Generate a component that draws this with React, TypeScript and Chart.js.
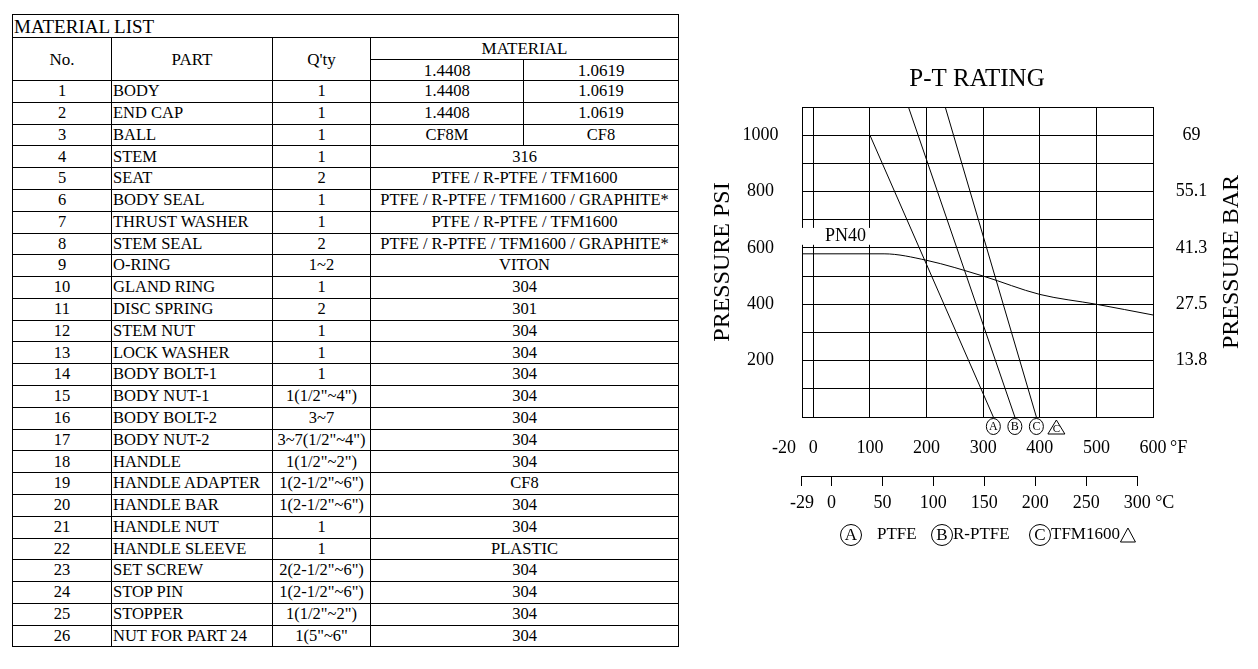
import React, { useEffect, useRef } from 'react';
import { Chart, registerables } from 'chart.js';

Chart.register(...registerables);

// ---------------- Material list data ----------------
const TABLE_TITLE = 'MATERIAL LIST';
const HEAD_NO = 'No.';
const HEAD_PART = 'PART';
const HEAD_QTY = "Q'ty";
const HEAD_MATERIAL = 'MATERIAL';
const MATERIAL_GRADES = ['1.4408', '1.0619'];

const PART_NO = [
  '1', '2', '3', '4', '5', '6', '7', '8', '9', '10', '11', '12', '13',
  '14', '15', '16', '17', '18', '19', '20', '21', '22', '23', '24', '25', '26',
];
const PART_NAMES = [
  'BODY', 'END CAP', 'BALL', 'STEM', 'SEAT', 'BODY SEAL', 'THRUST WASHER', 'STEM SEAL',
  'O-RING', 'GLAND RING', 'DISC SPRING', 'STEM NUT', 'LOCK WASHER', 'BODY BOLT-1',
  'BODY NUT-1', 'BODY BOLT-2', 'BODY NUT-2', 'HANDLE', 'HANDLE ADAPTER', 'HANDLE BAR',
  'HANDLE NUT', 'HANDLE SLEEVE', 'SET SCREW', 'STOP PIN', 'STOPPER', 'NUT FOR PART 24',
];
const QTY = [
  '1', '1', '1', '1', '2', '1', '1', '2', '1~2', '1', '2', '1', '1', '1',
  '1(1/2"~4")', '3~7', '3~7(1/2"~4")', '1(1/2"~2")', '1(2-1/2"~6")', '1(2-1/2"~6")',
  '1', '1', '2(2-1/2"~6")', '1(2-1/2"~6")', '1(1/2"~2")', '1(5"~6"',
];
const MAT_1 = [
  '1.4408', '1.4408', 'CF8M', '316', 'PTFE / R-PTFE / TFM1600',
  'PTFE / R-PTFE / TFM1600 / GRAPHITE*', 'PTFE / R-PTFE / TFM1600',
  'PTFE / R-PTFE / TFM1600 / GRAPHITE*', 'VITON', '304', '301', '304', '304', '304',
  '304', '304', '304', '304', 'CF8', '304', '304', 'PLASTIC', '304', '304', '304', '304',
];
const MAT_2: (string | null)[] = [
  '1.0619', '1.0619', 'CF8', null, null, null, null, null, null, null, null, null, null,
  null, null, null, null, null, null, null, null, null, null, null, null, null,
];

// ---------------- P-T chart data ----------------
const CHART_TITLE = 'P-T RATING';
const Y_TITLE = 'PRESSURE PSI';
const Y2_TITLE = 'PRESSURE BAR';
const TEMP_F_TICKS = [-20, 0, 100, 200, 300, 400, 500, 600];
const TEMP_C_TICKS = [-29, 0, 50, 100, 150, 200, 250, 300];
const PSI_TICKS = [200, 400, 600, 800, 1000];
const BAR_LABELS = ['13.8', '27.5', '41.3', '55.1', '69'];
const F_UNIT = '°F';
const C_UNIT = '°C';

const PN40_LABEL = 'PN40';
const PN40_F = [-20, 125, 200, 300, 400, 500, 600];
const PN40_PSI = [579, 579, 556, 500, 435, 400, 362];

const SEAT_A_F = [100, 318];
const SEAT_A_PSI = [1000, 0];
const SEAT_B_F = [168, 356];
const SEAT_B_PSI = [1100, 0];
const SEAT_C_F = [233, 394];
const SEAT_C_PSI = [1100, 0];

const SEAT_LETTERS = ['A', 'B', 'C'];
const SEAT_NAMES = ['PTFE', 'R-PTFE', 'TFM1600'];

const F_MIN = -20;
const F_MAX = 600;
const PSI_MAX = 1100;

const FONT = "'Liberation Serif', 'Times New Roman', serif";

const pts = (xs: number[], ys: number[]) => xs.map((x, i) => ({ x, y: ys[i] }));

const decorPlugin = {
  id: 'ptDecor',
  afterDraw(chart: any) {
    const { ctx, chartArea, scales } = chart;
    const x = scales.x;
    const y = scales.y;
    const xc = scales.xC;
    ctx.save();
    ctx.strokeStyle = '#000';
    ctx.lineWidth = 1;

    // PN40 label with white background
    const bx0 = chartArea.left - 7;
    const bx1 = Math.round(x.getPixelForValue(100));
    const by0 = y.getPixelForValue(671);
    const by1 = y.getPixelForValue(611);
    ctx.fillStyle = '#fff';
    ctx.fillRect(bx0, by0, bx1 - bx0, by1 - by0);
    ctx.fillStyle = '#000';
    ctx.font = `18px ${FONT}`;
    ctx.textAlign = 'center';
    ctx.textBaseline = 'middle';
    ctx.fillText(PN40_LABEL, x.getPixelForValue(57), y.getPixelForValue(640));

    // seat end markers
    const ends = [SEAT_A_F, SEAT_B_F, SEAT_C_F].map((a) => a[a.length - 1]);
    const my = chartArea.bottom + 9.5;
    let lastX = 0;
    ends.forEach((f, i) => {
      const cx = x.getPixelForValue(f);
      lastX = cx;
      ctx.beginPath();
      ctx.ellipse(cx, my, 7, 8, 0, 0, Math.PI * 2);
      ctx.fillStyle = '#fff';
      ctx.fill();
      ctx.stroke();
      ctx.fillStyle = '#000';
      ctx.font = `12px ${FONT}`;
      ctx.fillText(SEAT_LETTERS[i], cx, my + 0.5);
    });
    // triangle marker
    const tx = lastX + 20;
    const tb = chartArea.bottom;
    ctx.beginPath();
    ctx.moveTo(tx, tb + 3);
    ctx.lineTo(tx - 8.5, tb + 17);
    ctx.lineTo(tx + 8.5, tb + 17);
    ctx.closePath();
    ctx.stroke();
    ctx.font = `11px ${FONT}`;
    ctx.fillText(SEAT_LETTERS[2], tx, tb + 12);

    // unit labels
    ctx.font = `18px ${FONT}`;
    ctx.textAlign = 'left';
    ctx.fillText(F_UNIT, x.getPixelForValue(F_MAX) + 17, chartArea.bottom + 31);
    ctx.fillText(C_UNIT, xc.getPixelForValue(TEMP_C_TICKS[TEMP_C_TICKS.length - 1]) + 18, xc.top + 27);

    // celsius axis line
    const ly = Math.round(xc.top) + 0.5;
    ctx.beginPath();
    ctx.moveTo(Math.round(xc.getPixelForValue(TEMP_C_TICKS[0])), ly);
    ctx.lineTo(Math.round(xc.getPixelForValue(TEMP_C_TICKS[TEMP_C_TICKS.length - 1])) + 1, ly);
    ctx.stroke();

    // right axis title (reads bottom to top)
    ctx.save();
    ctx.translate(chart.width - 22, (chartArea.top + chartArea.bottom) / 2);
    ctx.rotate(-Math.PI / 2);
    ctx.font = `24px ${FONT}`;
    ctx.textAlign = 'center';
    ctx.textBaseline = 'middle';
    ctx.fillText(Y2_TITLE, 0, 0);
    ctx.restore();

    // legend
    const legY = chart.height - 25;
    const circleX = [49, 140, 238].map((d) => chartArea.left + d);
    const textX = [75, 151, 249].map((d) => chartArea.left + d);
    let endText = 0;
    SEAT_LETTERS.forEach((L, i) => {
      ctx.beginPath();
      ctx.arc(circleX[i], legY, 10.5, 0, Math.PI * 2);
      ctx.stroke();
      ctx.font = `17px ${FONT}`;
      ctx.textAlign = 'center';
      ctx.textBaseline = 'middle';
      ctx.fillText(L, circleX[i], legY + 1);
      ctx.textAlign = 'left';
      ctx.font = `17px ${FONT}`;
      ctx.fillText(SEAT_NAMES[i], textX[i], legY);
      endText = textX[i] + ctx.measureText(SEAT_NAMES[i]).width;
    });
    const lt = endText + 8;
    ctx.beginPath();
    ctx.moveTo(lt, legY - 7);
    ctx.lineTo(lt - 7.5, legY + 7);
    ctx.lineTo(lt + 7.5, legY + 7);
    ctx.closePath();
    ctx.stroke();

    ctx.restore();
  },
};

type Cell = { x0: number; x1: number; y0: number; y1: number; text: string; align: 'left' | 'center'; size: number };

function buildCells(): Cell[] {
  const COL = [12, 112, 273, 371, 524, 679];
  const cells: Cell[] = [];
  cells.push({ x0: COL[0], x1: COL[5], y0: 14, y1: 38, text: TABLE_TITLE, align: 'left', size: 19 });
  cells.push({ x0: COL[0], x1: COL[1], y0: 38, y1: 81, text: HEAD_NO, align: 'center', size: 17 });
  cells.push({ x0: COL[1], x1: COL[2], y0: 38, y1: 81, text: HEAD_PART, align: 'center', size: 17 });
  cells.push({ x0: COL[2], x1: COL[3], y0: 38, y1: 81, text: HEAD_QTY, align: 'center', size: 17 });
  cells.push({ x0: COL[3], x1: COL[5], y0: 38, y1: 60, text: HEAD_MATERIAL, align: 'center', size: 17 });
  cells.push({ x0: COL[3], x1: COL[4], y0: 60, y1: 81, text: MATERIAL_GRADES[0], align: 'center', size: 17 });
  cells.push({ x0: COL[4], x1: COL[5], y0: 60, y1: 81, text: MATERIAL_GRADES[1], align: 'center', size: 17 });
  const top = 81;
  const rowH = (647.5 - 81) / PART_NO.length;
  PART_NO.forEach((no, i) => {
    const y0 = top + i * rowH;
    const y1 = top + (i + 1) * rowH;
    cells.push({ x0: COL[0], x1: COL[1], y0, y1, text: no, align: 'center', size: 16.5 });
    cells.push({ x0: COL[1], x1: COL[2], y0, y1, text: PART_NAMES[i], align: 'left', size: 16.5 });
    cells.push({ x0: COL[2], x1: COL[3], y0, y1, text: QTY[i], align: 'center', size: 16.5 });
    if (MAT_2[i] === null) {
      cells.push({ x0: COL[3], x1: COL[5], y0, y1, text: MAT_1[i], align: 'center', size: 16.5 });
    } else {
      cells.push({ x0: COL[3], x1: COL[4], y0, y1, text: MAT_1[i], align: 'center', size: 16.5 });
      cells.push({ x0: COL[4], x1: COL[5], y0, y1, text: MAT_2[i] as string, align: 'center', size: 16.5 });
    }
  });
  return cells;
}

export default function App() {
  const ref = useRef<HTMLCanvasElement>(null);

  useEffect(() => {
    if (!ref.current) return;
    Chart.defaults.font.family = FONT;
    Chart.defaults.color = '#000';
    const line = { borderColor: '#000', borderWidth: 1, pointRadius: 0, fill: false };
    const chart = new Chart(ref.current, {
      type: 'line',
      data: {
        datasets: [
          { label: PN40_LABEL, data: pts(PN40_F, PN40_PSI), ...line, cubicInterpolationMode: 'monotone' } as any,
          { label: SEAT_NAMES[0], data: pts(SEAT_A_F, SEAT_A_PSI), ...line, tension: 0 },
          { label: SEAT_NAMES[1], data: pts(SEAT_B_F, SEAT_B_PSI), ...line, tension: 0 },
          { label: SEAT_NAMES[2], data: pts(SEAT_C_F, SEAT_C_PSI), ...line, tension: 0 },
        ],
      },
      options: {
        responsive: false,
        animation: false,
        layout: { padding: 0 },
        plugins: {
          legend: { display: false },
          tooltip: { enabled: false },
          title: {
            display: true,
            text: CHART_TITLE,
            color: '#000',
            font: { size: 25, weight: 'normal', family: FONT },
            padding: { top: 14, bottom: 13 },
          },
        },
        scales: {
          x: {
            type: 'linear',
            position: 'bottom',
            min: F_MIN,
            max: F_MAX,
            weight: 0,
            afterBuildTicks: (s: any) => { s.ticks = TEMP_F_TICKS.map((v) => ({ value: v })); },
            afterFit: (s: any) => { s.height = 59; },
            grid: { color: '#000', lineWidth: 1, drawTicks: false },
            border: { display: true, color: '#000' },
            ticks: {
              color: '#000',
              font: { size: 18 },
              padding: 20,
              autoSkip: false,
              maxRotation: 0,
              callback: (v: any) => (v === TEMP_F_TICKS[0] ? `${v}\u2003\u2003` : String(v)),
            },
          },
          xC: {
            type: 'linear',
            position: 'bottom',
            min: (F_MIN - 32) / 1.8,
            max: (F_MAX - 32) / 1.8,
            weight: 1,
            afterBuildTicks: (s: any) => { s.ticks = TEMP_C_TICKS.map((v) => ({ value: v })); },
            afterFit: (s: any) => { s.height = 84; },
            grid: { drawOnChartArea: false, drawTicks: true, tickLength: 10, color: '#000', lineWidth: 1 },
            border: { display: false },
            ticks: {
              color: '#000',
              font: { size: 18 },
              padding: 6,
              autoSkip: false,
              maxRotation: 0,
              callback: (v: any) => String(v),
            },
          },
          y: {
            type: 'linear',
            position: 'left',
            min: 0,
            max: PSI_MAX,
            afterFit: (s: any) => { s.width = 102; },
            grid: { color: '#000', lineWidth: 1, drawTicks: false },
            border: { display: true, color: '#000' },
            ticks: {
              stepSize: 100,
              autoSkip: false,
              color: '#000',
              font: { size: 18 },
              crossAlign: 'center',
              padding: 23.5,
              callback: (v: any) => (PSI_TICKS.includes(v) ? String(v) : ''),
            },
            title: {
              display: true,
              text: Y_TITLE,
              color: '#000',
              font: { size: 24, family: FONT },
              padding: { top: 8, bottom: 0 },
            },
          },
          y2: {
            type: 'linear',
            position: 'right',
            min: 0,
            max: PSI_MAX,
            afterFit: (s: any) => { s.width = 101; },
            grid: { drawOnChartArea: false, drawTicks: false },
            border: { display: false },
            ticks: {
              stepSize: 100,
              autoSkip: false,
              color: '#000',
              font: { size: 18 },
              crossAlign: 'center',
              padding: 22.75,
              callback: (v: any) => {
                const i = PSI_TICKS.indexOf(v);
                return i >= 0 ? BAR_LABELS[i] : '';
              },
            },
          },
        },
      } as any,
      plugins: [decorPlugin],
    });
    return () => chart.destroy();
  }, []);

  const cells = buildCells();

  return (
    <div
      style={{
        position: 'absolute',
        left: 0,
        top: 0,
        width: 1258,
        height: 669,
        background: '#fff',
        overflow: 'hidden',
        fontFamily: FONT,
        color: '#000',
      }}
    >
      {cells.map((c, i) => (
        <div
          key={i}
          style={{
            position: 'absolute',
            left: c.x0,
            top: c.y0,
            width: c.x1 - c.x0,
            height: c.y1 - c.y0,
            boxSizing: 'border-box',
            borderRight: '1px solid #000',
            borderBottom: '1px solid #000',
            borderLeft: c.x0 === 12 ? '1px solid #000' : 'none',
            borderTop: c.y0 === 14 ? '1px solid #000' : 'none',
            display: 'flex',
            alignItems: 'center',
            justifyContent: c.align === 'left' ? 'flex-start' : 'center',
            paddingLeft: c.align === 'left' ? 1 : 0,
            fontSize: c.size,
            lineHeight: 1,
            whiteSpace: 'nowrap',
            overflow: 'visible',
          }}
        >
          {c.text}
        </div>
      ))}
      <canvas
        ref={ref}
        width={554}
        height={510}
        style={{ position: 'absolute', left: 700, top: 50, width: 554, height: 510 }}
      />
    </div>
  );
}
